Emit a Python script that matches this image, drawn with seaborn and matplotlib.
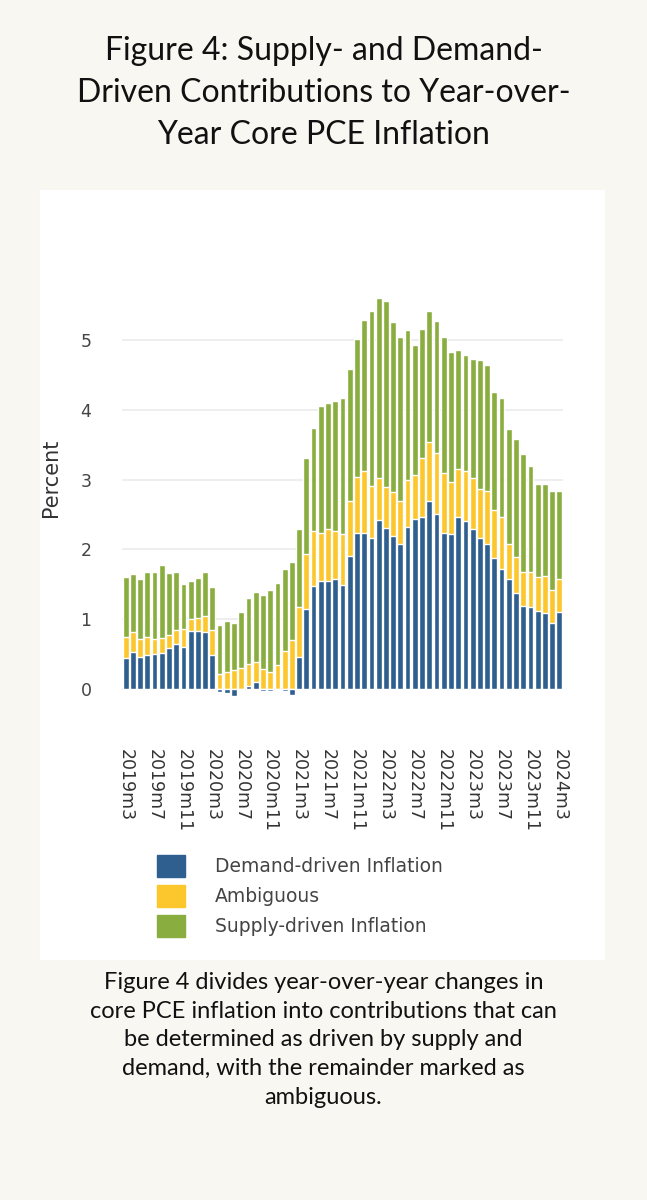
import numpy as np
import pandas as pd
import matplotlib
matplotlib.use("Agg")
import matplotlib.pyplot as plt
import seaborn as sns
from matplotlib.patches import Rectangle

# Data (percent), monthly 2019m3 .. 2024m3
months = [f"{y}m{m}" for y in range(2019, 2025) for m in range(1, 13)]
months = months[months.index("2019m3"):months.index("2024m3") + 1]

# top of stack (total)
total = [1.60, 1.65, 1.57, 1.68, 1.67, 1.77, 1.66, 1.67, 1.50, 1.54, 1.59, 1.68, 1.46,
         0.92, 0.97, 0.95, 1.10, 1.31, 1.39, 1.34, 1.42, 1.52, 1.72, 1.82,
         2.29, 3.31, 3.74, 4.05, 4.10, 4.12, 4.17, 4.58, 5.01, 5.29, 5.41, 5.60,
         5.56, 5.26, 5.05, 5.15, 4.93, 5.16, 5.42, 5.27, 5.04, 4.83, 4.86, 4.79,
         4.73, 4.71, 4.64, 4.25, 4.17, 3.72, 3.58, 3.37, 3.19, 2.94, 2.94, 2.83, 2.83]
# top of the ambiguous segment
amb_top = [0.74, 0.82, 0.71, 0.75, 0.71, 0.73, 0.77, 0.84, 0.86, 1.00, 1.02, 1.04, 0.84,
           0.21, 0.25, 0.27, 0.30, 0.36, 0.39, 0.29, 0.25, 0.35, 0.54, 0.70,
           1.18, 1.94, 2.27, 2.23, 2.29, 2.26, 2.22, 2.69, 3.04, 3.12, 2.91, 3.02,
           2.90, 2.82, 2.69, 2.99, 3.06, 3.31, 3.54, 3.38, 3.09, 2.96, 3.15, 3.13,
           3.02, 2.87, 2.83, 2.57, 2.46, 2.07, 1.89, 1.67, 1.67, 1.60, 1.62, 1.42, 1.57]
demand = [0.44, 0.53, 0.46, 0.49, 0.50, 0.52, 0.58, 0.65, 0.60, 0.83, 0.83, 0.82, 0.48,
          -0.04, -0.06, -0.10, -0.01, 0.04, 0.10, -0.03, -0.03, -0.01, -0.03, -0.08,
          0.46, 1.15, 1.48, 1.54, 1.54, 1.58, 1.49, 1.91, 2.23, 2.24, 2.16, 2.42,
          2.31, 2.19, 2.07, 2.32, 2.43, 2.47, 2.70, 2.50, 2.24, 2.22, 2.47, 2.41,
          2.29, 2.16, 2.08, 1.88, 1.72, 1.57, 1.37, 1.19, 1.18, 1.12, 1.09, 0.94, 1.10]

df = pd.DataFrame({"month": months, "total": total, "amb_top": amb_top, "demand": demand})

BLUE = "#2e5f8f"
YELLOW = "#fcc72c"
GREEN = "#8aad3f"
BG = "#f8f7f2"

sns.set_style("white")
plt.rcParams["font.family"] = ["DejaVu Sans"]

fig = plt.figure(figsize=(6.47, 12), dpi=100)
fig.patch.set_facecolor(BG)

# white panel behind the chart
panel = Rectangle((40 / 647, 1 - 960 / 1200), 565 / 647, 770 / 1200,
                  transform=fig.transFigure, facecolor="white", edgecolor="none", zorder=-5)
fig.patches.append(panel)

ax = fig.add_axes([122 / 647, 1 - 705 / 1200, 441 / 647, 455 / 1200], zorder=2)
ax.set_facecolor("white")

# overlaid bars: total (green), ambiguous top (yellow), demand (blue)
sns.barplot(data=df, x="month", y="total", color=GREEN, width=0.8, saturation=1, ax=ax, zorder=2)
sns.barplot(data=df, x="month", y="amb_top", color=YELLOW, width=0.8, saturation=1, ax=ax, zorder=3)
sns.barplot(data=df, x="month", y="demand", color=BLUE, width=0.8, saturation=1, ax=ax, zorder=4)

ax.set_xlim(-0.5, len(months) - 0.5)
ax.set_ylim(-0.23, 6.29)
ax.set_yticks([0, 1, 2, 3, 4, 5])
ax.yaxis.grid(True, color="#ebebeb", linewidth=1.2, zorder=0)
ax.set_axisbelow(True)
for s in ax.spines.values():
    s.set_visible(False)

tick_pos = list(range(0, len(months), 4))
ax.set_xticks(tick_pos)
ax.set_xticklabels([months[i] for i in tick_pos], rotation=-90, fontsize=12.5,
                   color="#333333", va="top")
ax.tick_params(axis="x", length=0, pad=32)
ax.tick_params(axis="y", length=0, labelsize=12.5, labelcolor="#444444", pad=22)
ax.set_xlabel("")
ax.set_ylabel("Percent", fontsize=15, color="#333333", labelpad=14)

# legend
handles = [Rectangle((0, 0), 1, 1, color=c) for c in (BLUE, YELLOW, GREEN)]
fig.legend(handles, ["Demand-driven Inflation", "Ambiguous", "Supply-driven Inflation"],
           loc="upper left", bbox_to_anchor=(140 / 647, 1 - 838 / 1200), frameon=False,
           fontsize=13.5, handlelength=1.5, handleheight=1.4, handletextpad=1.6,
           labelspacing=0.45, labelcolor="#444444")

fig.text(0.5, 1 - 36 / 1200,
         "Figure 4: Supply- and Demand-\nDriven Contributions to Year-over-\nYear Core PCE Inflation",
         ha="center", va="top", fontsize=23, linespacing=1.5, family="Lato", color="#111111")
fig.text(0.5, 1 - 972 / 1200,
         "Figure 4 divides year-over-year changes in\ncore PCE inflation into contributions that can\n"
         "be determined as driven by supply and\ndemand, with the remainder marked as\nambiguous.",
         ha="center", va="top", fontsize=17, linespacing=1.45, family="Lato", color="#111111")

fig.savefig("out.png", dpi=100, facecolor=BG)
